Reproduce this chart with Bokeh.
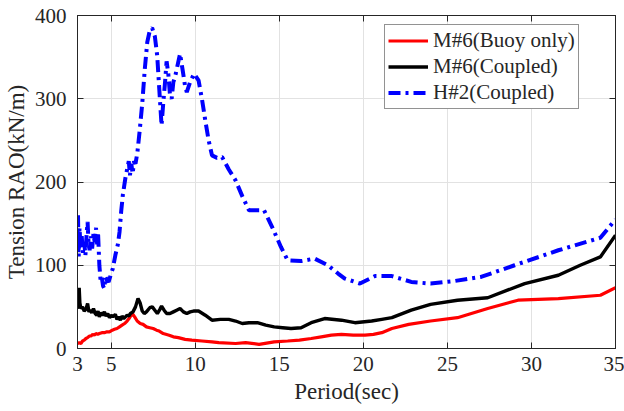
from bokeh.plotting import figure
from bokeh.models import (LinearAxis, FixedTicker, Range1d, Legend, LegendItem)
from bokeh.embed import file_html
from bokeh.resources import INLINE

# ---- data -------------------------------------------------------------
x_ticks = [3, 5, 10, 15, 20, 25, 30, 35]
y_ticks = [0, 100, 200, 300, 400]

red_x = [3.0, 3.1, 3.2, 3.3, 3.4, 3.5, 3.6, 3.7, 3.8, 3.9, 4.0, 4.1, 4.2, 4.3,
         4.45, 4.6, 4.75, 4.9, 5.07, 5.2, 5.35, 5.5, 5.65, 5.8, 5.95, 6.1, 6.26,
         6.4, 6.55, 6.73, 6.9, 7.1, 7.3, 7.5, 7.7, 7.86, 8.1, 8.45, 8.7, 9.0,
         9.4, 9.8, 10.4, 11.0, 11.4, 12.4, 13.0, 13.8, 14.7, 15.5, 16.2, 16.9,
         17.5, 18.1, 18.7, 19.4, 20.1, 20.6, 21.1, 21.7, 22.7, 24.0, 25.6, 27.4,
         29.2, 31.6, 34.1, 35.0]
red_y = [6, 7, 6, 9, 10, 12, 13, 15, 15, 17, 16, 18, 17, 18,
         19, 19, 20, 20, 22, 23, 24, 26, 28, 30, 33, 37, 42,
         38, 33, 30, 29, 26, 25, 24, 22, 21, 18, 16, 14, 13,
         11, 10, 9, 8, 7, 6, 7, 5, 8, 9, 10, 12,
         14, 16, 17, 16, 16, 17, 19, 24, 29, 33, 37, 48,
         58, 60, 64, 73]

black_x = [3.0, 3.05, 3.1, 3.14, 3.2, 3.3, 3.4, 3.5, 3.6, 3.68, 3.75, 3.85, 3.95,
           4.05, 4.15, 4.22, 4.3, 4.4, 4.5, 4.6, 4.7, 4.8, 4.9, 5.0, 5.1, 5.25,
           5.35, 5.45, 5.55, 5.65, 5.75, 5.85, 5.95, 6.05, 6.15, 6.3, 6.45, 6.6,
           6.72, 6.85, 6.97, 7.1, 7.3, 7.45, 7.6, 7.75, 7.9, 8.0, 8.15, 8.3, 8.5,
           8.7, 8.9, 9.1, 9.3, 9.5, 9.7, 9.9, 10.2, 10.6, 11.0, 11.5, 12.0, 12.4,
           12.8, 13.2, 13.7, 14.2, 14.7, 15.2, 15.7, 16.3, 16.9, 17.7, 18.7, 19.5,
           20.5, 21.1, 21.7, 22.85, 24.0, 25.6, 27.4, 29.6, 31.6, 32.9, 34.1, 35.0]
black_y = [50, 48, 73, 55, 48, 50, 45, 47, 54, 44, 46, 43, 48,
           42, 40, 45, 38, 43, 40, 44, 39, 42, 37, 40, 38, 41,
           35, 38, 34, 39, 36, 38, 40, 39, 42, 44, 50, 60,
           55, 45, 42, 44, 49, 50, 46, 42, 47, 51, 46, 42, 42,
           44, 46, 48, 44, 42, 44, 45, 45, 40, 34, 35, 35, 33,
           30, 31, 31, 28, 26, 25, 24, 25, 31, 36, 34, 31,
           33, 35, 37, 46, 53, 58, 61, 78, 88, 100, 110, 136]

blue_x = [3.0, 3.03, 3.07, 3.12, 3.18, 3.25, 3.32, 3.4, 3.47, 3.55, 3.6, 3.66,
          3.72, 3.8, 3.87, 3.95, 4.02, 4.1, 4.17, 4.22, 4.3, 4.38, 4.45, 4.52,
          4.6, 4.66, 4.75, 4.85, 5.0, 5.1, 5.25, 5.4, 5.5, 5.6, 5.7, 5.85, 5.95,
          6.05, 6.12, 6.2, 6.28, 6.36, 6.45, 6.56, 6.7, 6.85, 7.0, 7.15, 7.3,
          7.44, 7.6, 7.74, 7.9, 8.0, 8.1, 8.2, 8.3, 8.4, 8.5, 8.6, 8.7, 8.8,
          8.95, 9.1, 9.25, 9.4, 9.5, 9.7, 9.93, 10.2, 10.4, 10.6, 10.8, 11.0,
          11.3, 11.6, 12.0, 12.4, 12.8, 13.2, 13.6, 14.1, 14.6, 15.1, 15.5, 16.3,
          17.1, 17.9, 18.5, 18.9, 19.8, 20.7, 21.7, 22.85, 24.0, 25.4, 27.0,
          29.0, 31.6, 34.1, 35.0]
blue_y = [130, 160, 110, 145, 122, 135, 115, 128, 112, 140, 152, 125,
          118, 135, 120, 138, 128, 145, 125, 140, 100, 80, 85, 75,
          72, 86, 82, 80, 90, 96, 112, 125, 140, 165, 185, 205, 215,
          225, 208, 222, 210, 225, 222, 235, 262, 294, 335, 368, 382,
          385, 375, 352, 300, 268, 295, 318, 345, 330, 305, 300, 320, 326,
          340, 354, 335, 315, 308, 320, 330, 322, 300, 274, 250, 232,
          229, 230, 215, 202, 183, 166, 166, 166, 145, 122, 106, 105,
          108, 100, 90, 84, 78, 87, 87, 80, 78, 81, 86,
          100, 118, 133, 155]

series_names = ["M#6(Buoy only)", "M#6(Coupled)", "H#2(Coupled)"]

# ---- figure -----------------------------------------------------------
FONT = "Liberation Serif"
INK = "#262626"

p = figure(width=624, height=411, output_backend="svg", toolbar_location=None,
           x_range=Range1d(3, 35), y_range=Range1d(0, 400),
           min_border_left=75, min_border_right=9, min_border_top=15,
           min_border_bottom=63)
p.background_fill_color = "white"
p.border_fill_color = "white"
p.outline_line_color = INK
p.outline_line_width = 1

xt = FixedTicker(ticks=x_ticks)
yt = FixedTicker(ticks=y_ticks)

for ax, tk in ((p.xaxis[0], xt), (p.yaxis[0], yt)):
    ax.ticker = tk
    ax.major_tick_in = 6
    ax.major_tick_out = 0
    ax.minor_tick_line_color = None
    ax.axis_line_color = INK
    ax.major_tick_line_color = INK
    ax.major_label_text_font = FONT
    ax.major_label_text_font_size = "21px"
    ax.major_label_text_color = INK
    ax.axis_label_text_font = FONT
    ax.axis_label_text_font_size = "23px"
    ax.axis_label_text_font_style = "normal"
    ax.axis_label_text_color = INK

p.xaxis[0].axis_label = "Period(sec)"
p.yaxis[0].axis_label = "Tension RAO(kN/m)"
p.xaxis[0].major_label_standoff = 8
p.yaxis[0].major_label_standoff = 11
p.xaxis[0].axis_label_standoff = 5
p.yaxis[0].axis_label_standoff = 3

for loc, tk, ticks in (("right", yt, y_ticks), ("above", xt, x_ticks)):
    a = LinearAxis(ticker=tk, major_tick_in=6, major_tick_out=0,
                   minor_tick_line_color=None, axis_line_color=INK,
                   major_tick_line_color=INK,
                   major_label_overrides={t: "" for t in ticks},
                   major_label_standoff=0)
    p.add_layout(a, loc)

p.xgrid.ticker = xt
p.ygrid.ticker = yt
p.xgrid.grid_line_color = "#e2e2e2"
p.ygrid.grid_line_color = "#e2e2e2"
p.xgrid.grid_line_width = 1
p.ygrid.grid_line_width = 1

r_red = p.line(red_x, red_y, line_color="#ff0000", line_width=3.2)
r_black = p.line(black_x, black_y, line_color="black", line_width=3.4)
r_blue = p.line(blue_x, blue_y, line_color="#0000ff", line_width=4,
                line_dash="12 5 3 5")

legend = Legend(items=[LegendItem(label=series_names[0], renderers=[r_red]),
                       LegendItem(label=series_names[1], renderers=[r_black]),
                       LegendItem(label=series_names[2], renderers=[r_blue])],
                location=(307, 239))
legend.label_text_font = FONT
legend.label_text_font_size = "21px"
legend.label_text_color = INK
legend.glyph_width = 40
legend.glyph_height = 25
legend.label_height = 25
legend.label_standoff = 5
legend.spacing = 1
legend.padding = 3
legend.margin = 0
legend.border_line_color = INK
legend.border_line_width = 1
legend.background_fill_alpha = 1
p.add_layout(legend, "center")

open("out.html", "w").write(file_html(p, INLINE))
